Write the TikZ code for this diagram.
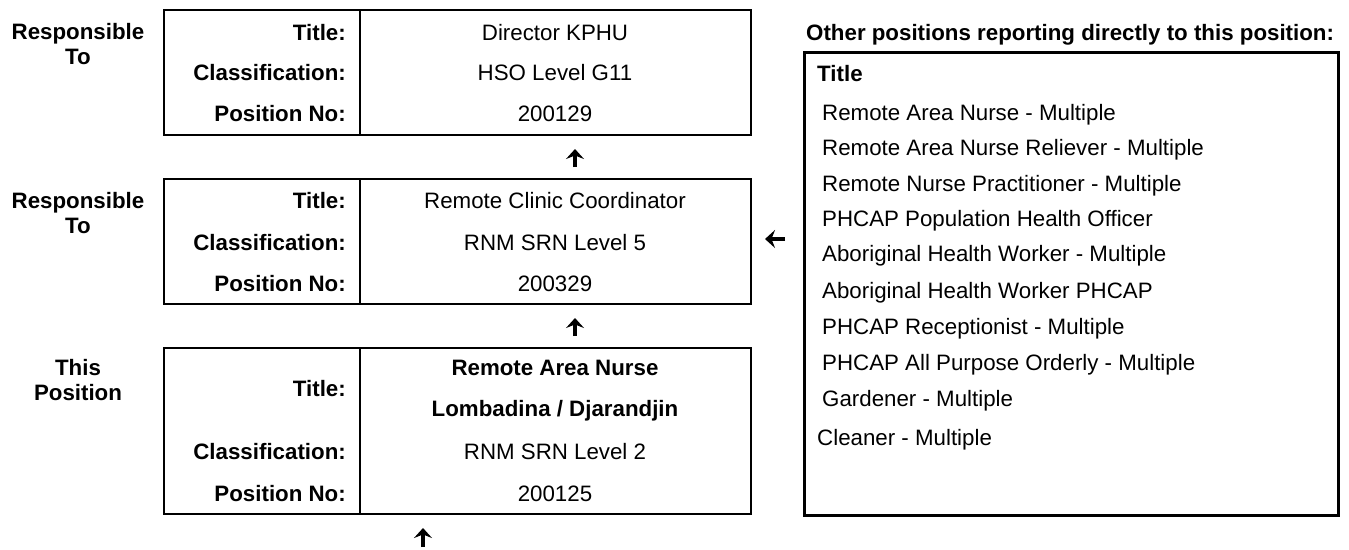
\documentclass[tikz,border=0pt]{standalone}
\usepackage{fontspec}
\setmainfont{Liberation Sans}
\usetikzlibrary{arrows.meta}
\begin{document}
\begin{tikzpicture}[x=1pt,y=-1pt,
  font=\fontsize{22.3}{25}\selectfont,
  box/.style={draw, line width=2.3pt, anchor=north west, inner sep=0pt},
  lab/.style={anchor=base east, inner sep=0pt, font=\fontsize{22.3}{25}\selectfont\bfseries},
  val/.style={anchor=base, inner sep=0pt},
  bval/.style={anchor=base, inner sep=0pt, font=\fontsize{22.3}{25}\selectfont\bfseries},
  side/.style={anchor=north, align=center, inner sep=0pt, font=\fontsize{22.3}{25}\selectfont\bfseries},
  item/.style={anchor=base west, inner sep=0pt},
  upa/.style={line width=4.5pt, -{Stealth[length=10pt,width=18pt,inset=3.5pt]}}]
\useasboundingbox (0,0) rectangle (1349,549);

% side labels
\node[side] (s1) at (78,23) {Responsible\\To};
\node[side] (s2) at (78,192) {Responsible\\To};
\node[side] (s3) at (78,359) {This\\Position};

% box 1
\node[box, minimum width=587pt, minimum height=125pt] (b1) at (163,9) {};
\draw[line width=2.3pt] (360,9) -- (360,134);
\node[lab] (b1t) at (346,40) {Title:};
\node[lab] (b1c) at (346,80) {Classification:};
\node[lab] (b1p) at (346,121) {Position No:};
\node[val] (b1tv) at (555,40) {Director KPHU};
\node[val] (b1cv) at (555,80) {HSO Level G11};
\node[val] (b1pv) at (555,121) {200129};

% box 2
\node[box, minimum width=587pt, minimum height=125pt] (b2) at (163,178) {};
\draw[line width=2.3pt] (360,178) -- (360,303);
\node[lab] (b2t) at (346,208) {Title:};
\node[lab] (b2c) at (346,250) {Classification:};
\node[lab] (b2p) at (346,291) {Position No:};
\node[val] (b2tv) at (555,208) {Remote Clinic Coordinator};
\node[val] (b2cv) at (555,250) {RNM SRN Level 5};
\node[val] (b2pv) at (555,291) {200329};

% box 3
\node[box, minimum width=587pt, minimum height=166pt] (b3) at (163,347) {};
\draw[line width=2.3pt] (360,347) -- (360,513);
\node[lab] (b3t) at (346,396) {Title:};
\node[lab] (b3c) at (346,459) {Classification:};
\node[lab] (b3p) at (346,501) {Position No:};
\node[bval] (b3tv1) at (555,375) {Remote Area Nurse};
\node[bval] (b3tv2) at (555,416) {Lombadina / Djarandjin};
\node[val] (b3cv) at (555,459) {RNM SRN Level 2};
\node[val] (b3pv) at (555,501) {200125};

% arrows
\coordinate (a1s) at (575,167); \coordinate (a1e) at (575,149);
\coordinate (a2s) at (575,336); \coordinate (a2e) at (575,318);
\coordinate (a3s) at (423,547); \coordinate (a3e) at (423,528);
\coordinate (a4s) at (785,239); \coordinate (a4e) at (765,239);
\draw[upa] (a1s) -- (a1e);
\draw[upa] (a2s) -- (a2e);
\draw[upa] (a3s) -- (a3e);
\draw[upa] (a4s) -- (a4e);

% right box
\node[anchor=base west, inner sep=0pt, font=\fontsize{22.3}{25}\selectfont\bfseries] (hdr) at (806,40) {Other positions reporting directly to this position:};
\node[box, line width=2.5pt, minimum width=534pt, minimum height=463pt] (rb) at (803,51) {};
\node[item, font=\fontsize{22.3}{25}\selectfont\bfseries] (rt) at (817,81) {Title};
\node[item] (r1) at (822,120) {Remote Area Nurse - Multiple};
\node[item] (r2) at (822,155) {Remote Area Nurse Reliever - Multiple};
\node[item] (r3) at (822,191) {Remote Nurse Practitioner - Multiple};
\node[item] (r4) at (822,226) {PHCAP Population Health Officer};
\node[item] (r5) at (822,261) {Aboriginal Health Worker - Multiple};
\node[item] (r6) at (822,298) {Aboriginal Health Worker PHCAP};
\node[item] (r7) at (822,334) {PHCAP Receptionist - Multiple};
\node[item] (r8) at (822,370) {PHCAP All Purpose Orderly - Multiple};
\node[item] (r9) at (822,406) {Gardener - Multiple};
\node[item] (r10) at (817,445) {Cleaner - Multiple};
\end{tikzpicture}
\end{document}
